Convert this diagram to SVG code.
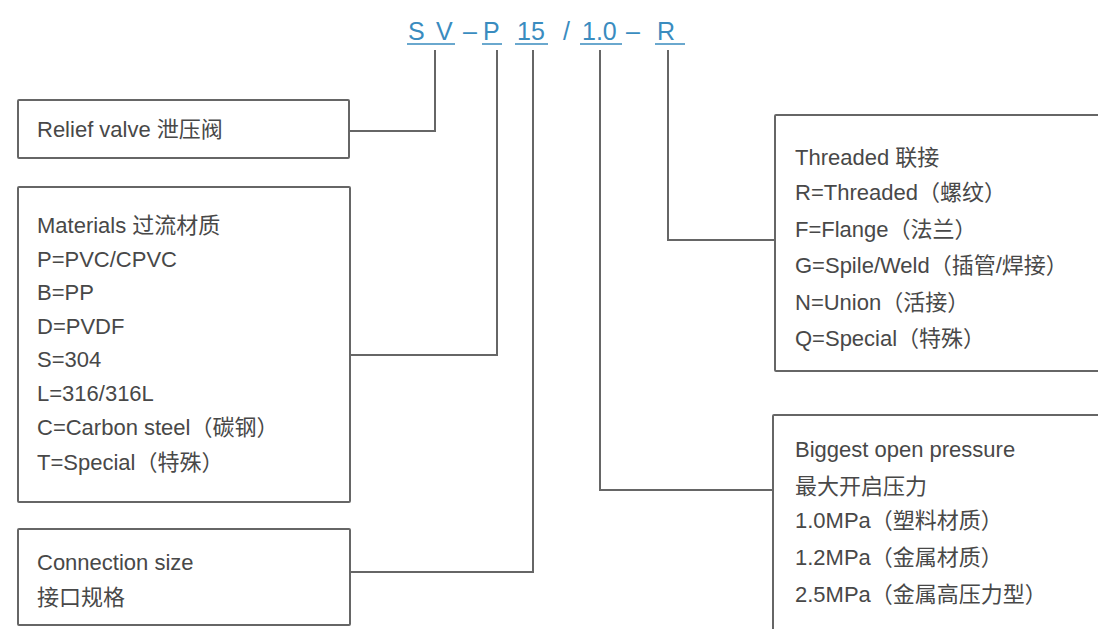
<svg xmlns="http://www.w3.org/2000/svg" width="1098" height="629" viewBox="0 0 1098 629">
<style>
.hd{font-family:"Liberation Sans","Noto Sans CJK SC",sans-serif;font-size:25px;fill:#3a8cbf}
.ul{stroke:#3a8cbf;stroke-width:1.5;fill:none}
.box{fill:#fff;stroke:#666;stroke-width:2}
.t{font-family:"Liberation Sans","Noto Sans CJK SC",sans-serif;font-size:22px;fill:#484848}
.c{fill:none;stroke:#666;stroke-width:2}
</style>
<rect width="1098" height="629" fill="#fff"/>
<g id="code">
<text class="hd" x="408" y="40">S</text>
<text class="hd" x="436" y="40">V</text>
<text class="hd" x="463" y="40">–</text>
<text class="hd" x="483" y="40">P</text>
<text class="hd" x="517" y="40">15</text>
<text class="hd" x="563" y="40">/</text>
<text class="hd" x="582" y="40">1.0</text>
<text class="hd" x="626" y="40">–</text>
<text class="hd" x="657" y="40">R</text>
<path class="ul" d="M407 44H455M482 44H502M515 44H548M580 44H622M655 44H685"/>
</g>
<g id="connectors">
<path class="c" d="M435 50V131H349"/>
<path class="c" d="M497 50V355H350"/>
<path class="c" d="M533 50V572H350"/>
<path class="c" d="M600 50V490H773"/>
<path class="c" d="M668 50V240H775"/>
</g>
<g id="relief">
<rect class="box" x="18" y="100" width="331" height="58" rx="1"/>
<text class="t" x="37" y="137">Relief valve 泄压阀</text>
</g>
<g id="materials">
<rect class="box" x="18" y="187" width="332" height="315" rx="1"/>
<text class="t" x="37" y="233">Materials 过流材质</text>
<text class="t" x="37" y="267">P=PVC/CPVC</text>
<text class="t" x="37" y="300">B=PP</text>
<text class="t" x="37" y="334">D=PVDF</text>
<text class="t" x="37" y="367">S=304</text>
<text class="t" x="37" y="401">L=316/316L</text>
<text class="t" x="37" y="435">C=Carbon steel（碳钢）</text>
<text class="t" x="37" y="470">T=Special（特殊）</text>
</g>
<g id="size">
<rect class="box" x="18" y="529" width="332" height="96" rx="1"/>
<text class="t" x="37" y="570">Connection size</text>
<text class="t" x="37" y="605">接口规格</text>
</g>
<g id="threaded">
<rect class="box" x="775" y="115" width="340" height="256" rx="1"/>
<text class="t" x="795" y="165">Threaded 联接</text>
<text class="t" x="795" y="200">R=Threaded（螺纹）</text>
<text class="t" x="795" y="237">F=Flange（法兰）</text>
<text class="t" x="795" y="273">G=Spile/Weld（插管/焊接）</text>
<text class="t" x="795" y="310">N=Union（活接）</text>
<text class="t" x="795" y="346">Q=Special（特殊）</text>
</g>
<g id="pressure">
<rect class="box" x="773" y="415" width="340" height="230" rx="1"/>
<text class="t" x="795" y="457">Biggest open pressure</text>
<text class="t" x="795" y="494">最大开启压力</text>
<text class="t" x="795" y="528">1.0MPa（塑料材质）</text>
<text class="t" x="795" y="565">1.2MPa（金属材质）</text>
<text class="t" x="795" y="602">2.5MPa（金属高压力型）</text>
</g>
</svg>
